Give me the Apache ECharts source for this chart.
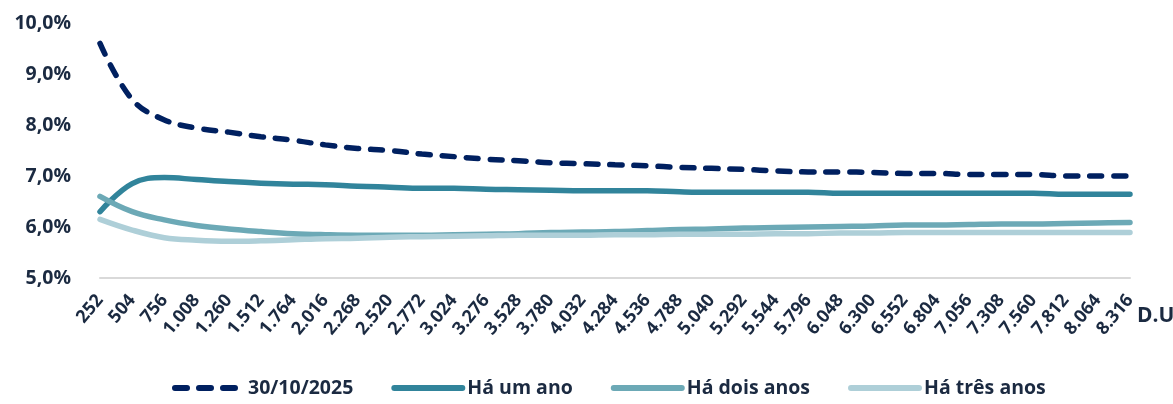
<!DOCTYPE html>
<html><head><meta charset="utf-8">
<script src="https://cdn.jsdelivr.net/npm/echarts@6/dist/echarts.min.js"></script>
<style>html,body{margin:0;padding:0;background:#fff}#c{width:1173px;height:404px}</style>
</head><body><div id="c"></div>
<script>
const categories = ["252","504","756","1.008","1.260","1.512","1.764","2.016","2.268","2.520","2.772","3.024","3.276","3.528","3.780","4.032","4.284","4.536","4.788","5.040","5.292","5.544","5.796","6.048","6.300","6.552","6.804","7.056","7.308","7.560","7.812","8.064","8.316"];
const yTickLabels = ["5,0%","6,0%","7,0%","8,0%","9,0%","10,0%"];
const seriesNames = ["30/10/2025","Há um ano","Há dois anos","Há três anos"];
const atual = [9.60,8.50,8.10,7.94,7.86,7.77,7.70,7.61,7.54,7.50,7.43,7.38,7.33,7.30,7.26,7.24,7.22,7.20,7.17,7.15,7.13,7.10,7.08,7.08,7.07,7.05,7.05,7.03,7.03,7.03,7.00,7.00,7.00];
const umAno = [6.30,6.85,6.97,6.93,6.89,6.86,6.84,6.83,6.80,6.78,6.76,6.76,6.74,6.73,6.72,6.71,6.71,6.71,6.69,6.68,6.68,6.68,6.68,6.66,6.66,6.66,6.66,6.66,6.66,6.66,6.64,6.64,6.64];
const doisAnos = [6.60,6.30,6.14,6.03,5.96,5.91,5.87,5.85,5.84,5.84,5.84,5.85,5.86,5.87,5.89,5.90,5.91,5.93,5.95,5.96,5.98,5.99,6.00,6.01,6.02,6.04,6.04,6.05,6.06,6.06,6.07,6.08,6.09];
const tresAnos = [6.15,5.94,5.79,5.74,5.72,5.73,5.75,5.77,5.78,5.80,5.81,5.82,5.83,5.84,5.84,5.84,5.85,5.85,5.86,5.86,5.86,5.87,5.87,5.88,5.88,5.89,5.89,5.89,5.89,5.89,5.89,5.89,5.89];

const txt = '#1b2a41';
const font = 'Open Sans';
const chart = echarts.init(document.getElementById('c'));
const mk = (name, data, color, type) => ({
  name, type: 'line', data, symbol: 'none', smooth: 0.4,
  lineStyle: { color, width: 5.5, type: type || 'solid', cap: 'round' },
  itemStyle: { color }
});
chart.setOption({
  animation: false,
  grid: { left: 100, right: 43, top: 23, bottom: 126, containLabel: false, outerBoundsMode: 'none' },
  xAxis: {
    type: 'category', data: categories, boundaryGap: false,
    axisLine: { lineStyle: { color: '#D9D9D9', width: 2 } },
    axisTick: { show: false },
    axisLabel: { rotate: 50, interval: 0, fontSize: 18, fontWeight: 'bold', color: txt, fontFamily: font, margin: 19 },
    name: 'D.U', nameLocation: 'end', nameGap: 4,
    nameTextStyle: { fontSize: 21, fontWeight: 'bold', color: txt, fontFamily: font, verticalAlign: 'top', padding: [28, 0, 0, 0] }
  },
  yAxis: {
    type: 'value', min: 5, max: 10, interval: 1,
    splitLine: { show: false }, axisLine: { show: false }, axisTick: { show: false },
    axisLabel: { formatter: v => yTickLabels[Math.round(v - 5)], fontSize: 19.5, fontWeight: 'bold', color: txt, fontFamily: font, margin: 29 }
  },
  legend: {
    left: 167, bottom: 1, itemWidth: 68, itemHeight: 10, itemGap: 38,
    itemStyle: { color: 'rgba(0,0,0,0)', borderWidth: 0 },
    lineStyle: { width: 6, cap: 'round' },
    textStyle: { fontSize: 19.5, fontWeight: 'bold', color: txt, fontFamily: font },
    data: seriesNames
  },
  series: [
    mk(seriesNames[0], atual, '#002060', [12, 12]),
    mk(seriesNames[1], umAno, '#31849B'),
    mk(seriesNames[2], doisAnos, '#6CA9B6'),
    mk(seriesNames[3], tresAnos, '#AECFD8')
  ]
});
</script></body></html>
